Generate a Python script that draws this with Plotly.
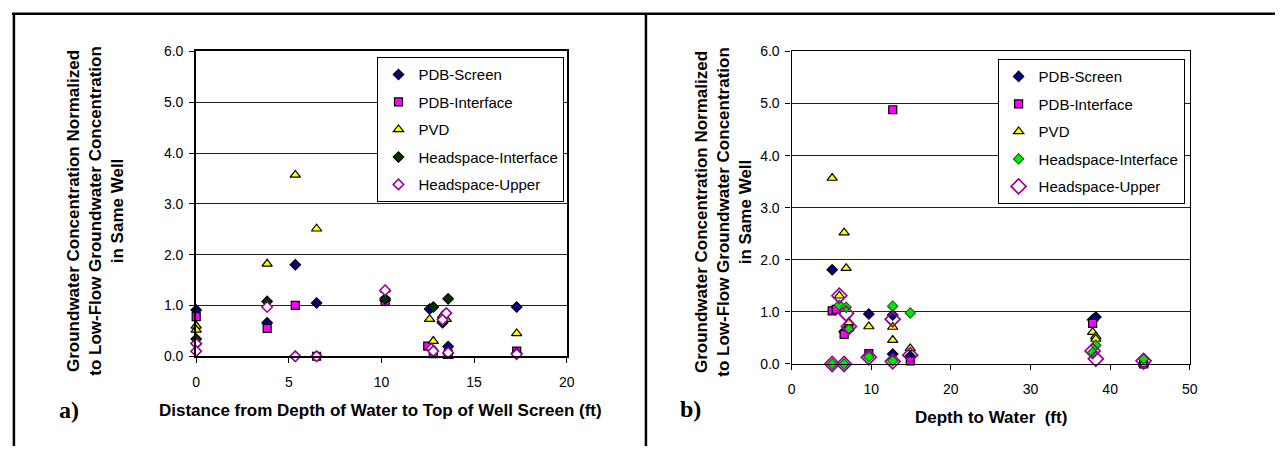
import plotly.graph_objects as go

# ---------------- data: panel a) distance from depth of water to top of screen ----------------
a_screen_x = [0, 3.83, 5.35, 6.5, 10.2, 12.6, 13.3, 13.6, 17.3]
a_screen_y = [0.91, 0.66, 1.80, 1.05, 1.10, 0.93, 0.68, 0.19, 0.97]

a_interface_x = [0, 3.83, 5.35, 6.5, 10.2, 12.5, 12.8, 13.6, 17.3]
a_interface_y = [0.78, 0.55, 1.00, 0.0, 1.08, 0.20, 0.05, 0.05, 0.10]

a_pvd_x = [0, 0, 3.83, 5.35, 6.5, 10.2, 12.6, 12.8, 13.3, 13.5, 13.6, 17.3]
a_pvd_y = [0.60, 0.52, 1.82, 3.57, 2.51, 1.31, 0.73, 0.30, 0.80, 0.73, 0.0, 0.45]

a_hsi_x = [0, 0, 3.83, 5.35, 6.5, 10.2, 12.8, 13.3, 13.6, 13.6, 17.3]
a_hsi_y = [0.34, 0.25, 1.08, 0.0, 0.0, 1.13, 0.97, 0.66, 1.13, 0.06, 0.06]

a_hsu_x = [0, 0, 3.83, 5.35, 6.5, 10.2, 12.7, 12.8, 13.3, 13.5, 13.6, 17.3]
a_hsu_y = [0.25, 0.10, 0.97, 0.0, 0.0, 1.30, 0.15, 0.10, 0.72, 0.85, 0.07, 0.04]

# ---------------- data: panel b) depth to water ----------------
b_screen_x = [5.1, 6.6, 9.7, 12.7, 12.7, 14.9, 37.8, 38.2, 44.2]
b_screen_y = [1.81, 0.62, 0.96, 0.94, 0.19, 0.15, 0.85, 0.90, 0.0]

b_interface_x = [5.1, 5.6, 6.6, 7.2, 9.7, 12.7, 14.9, 37.8, 44.2]
b_interface_y = [1.02, 1.05, 0.57, 0.70, 0.20, 4.88, 0.06, 0.78, 0.0]

b_pvd_x = [5.1, 6.0, 6.6, 6.85, 7.2, 9.7, 12.7, 12.7, 14.9, 37.8, 38.2, 38.2, 44.2]
b_pvd_y = [3.57, 1.31, 2.52, 1.84, 0.80, 0.72, 0.71, 0.46, 0.30, 0.61, 0.53, 0.48, 0.0]

b_hsi_x = [5.1, 6.0, 6.6, 6.85, 7.2, 9.7, 12.7, 12.7, 14.9, 37.8, 38.2, 44.2]
b_hsi_y = [0.0, 1.13, 0.0, 1.09, 0.66, 0.14, 1.11, 0.06, 0.98, 0.22, 0.36, 0.10]

b_hsu_x = [5.1, 6.0, 6.6, 6.85, 7.2, 9.7, 12.7, 12.7, 14.9, 37.8, 38.2, 44.2]
b_hsu_y = [0.0, 1.31, 0.0, 0.97, 0.72, 0.13, 0.86, 0.05, 0.17, 0.25, 0.10, 0.06]

series_names = ["PDB-Screen", "PDB-Interface", "PVD", "Headspace-Interface", "Headspace-Upper"]
y_ticks = [0, 1, 2, 3, 4, 5, 6]

W, H = 1283, 454
FONT = "Liberation Sans, Arial, sans-serif"


def px(x):
    return x / W


def py(y):
    return 1 - y / H


fig = go.Figure()

styles_a = [
    dict(symbol="diamond", size=8, color="#000080", line=dict(color="black", width=1.2)),
    dict(symbol="square", size=8, color="#FF00FF", line=dict(color="black", width=1.2)),
    dict(symbol="triangle-up", size=9, color="#FFFF00", line=dict(color="black", width=1.2)),
    dict(symbol="diamond", size=8, color="#003300", line=dict(color="black", width=1.2)),
    dict(symbol="diamond", size=8, color="white", line=dict(color="#990099", width=1.6)),
]
styles_b = [
    dict(symbol="diamond", size=8, color="#000080", line=dict(color="black", width=1.2)),
    dict(symbol="square", size=8, color="#FF00FF", line=dict(color="black", width=1.2)),
    dict(symbol="triangle-up", size=9, color="#FFFF00", line=dict(color="black", width=1.2)),
    dict(symbol="diamond", size=8, color="#00E600", line=dict(color="#1a5a1a", width=1.1)),
    dict(symbol="diamond-open", size=11.5, color="#990099", line=dict(color="#990099", width=1.7)),
]

data_a = [(a_screen_x, a_screen_y), (a_interface_x, a_interface_y), (a_pvd_x, a_pvd_y),
          (a_hsi_x, a_hsi_y), (a_hsu_x, a_hsu_y)]
data_b = [(b_screen_x, b_screen_y), (b_interface_x, b_interface_y), (b_pvd_x, b_pvd_y),
          (b_hsi_x, b_hsi_y), (b_hsu_x, b_hsu_y)]

for i, (name, (xs, ys), st) in enumerate(zip(series_names, data_a, styles_a)):
    fig.add_trace(go.Scatter(x=xs, y=ys, mode="markers", name=name, marker=st,
                             xaxis="x", yaxis="y", legend="legend",
                             legendgroup="a" + str(i), cliponaxis=False))
for i, (name, (xs, ys), st) in enumerate(zip(series_names, data_b, styles_b)):
    fig.add_trace(go.Scatter(x=xs, y=ys, mode="markers", name=name, marker=st,
                             xaxis="x2", yaxis="y2", legend="legend2",
                             legendgroup="b" + str(i), cliponaxis=False))

tickfont = dict(family=FONT, size=14, color="black")

common_y = dict(range=[0, 6], tickvals=y_ticks, tickformat=".1f", showgrid=True,
                gridcolor="#222", gridwidth=1, zeroline=False, showline=True,
                linecolor="black", mirror=True, ticks="outside", ticklen=5,
                tickcolor="black", tickfont=tickfont, fixedrange=True,
                ticklabelstandoff=3)
common_x = dict(showgrid=False, zeroline=False, showline=True, linecolor="black",
                mirror=True, ticks="outside", ticklen=5, tickcolor="black",
                tickfont=tickfont, fixedrange=True, ticklabelstandoff=7)

legend_common = dict(bgcolor="white", bordercolor="black", borderwidth=1,
                     font=dict(family=FONT, size=15, color="black"),
                     xanchor="left", yanchor="top", tracegroupgap=5,
                     itemwidth=30)

fig.update_layout(
    width=W, height=H,
    margin=dict(l=0, r=0, t=0, b=0),
    paper_bgcolor="white", plot_bgcolor="white",
    showlegend=True,
    xaxis=dict(domain=[px(194), px(568)], range=[0, 20], dtick=5, anchor="y",
               linewidth=1.5, **common_x),
    yaxis=dict(domain=[py(361), py(45)], anchor="x", linewidth=2, **common_y),
    xaxis2=dict(domain=[px(795), px(1197)], range=[0, 50], dtick=10, anchor="y2",
                linewidth=1.2, **common_x),
    yaxis2=dict(domain=[py(369), py(45)], anchor="x2", linewidth=1.2, **common_y),
    legend=dict(x=px(377), y=py(51), **legend_common),
    legend2=dict(x=px(1003), y=py(53), **legend_common),
)

ytitle = ("Groundwater Concentration Normalized<br>to Low-Flow Groundwater Concentration"
          "<br>in Same Well")
title_font = dict(family=FONT, size=17, color="black")

annotations = [
    dict(text="<b>" + ytitle + "</b>", x=px(92), y=py(210), textangle=-90,
         font=title_font),
    dict(text="<b>" + ytitle + "</b>", x=px(726), y=py(211), textangle=-90,
         font=title_font),
    dict(text="<b>Distance from Depth of Water to Top of Well Screen (ft)</b>",
         x=px(380), y=py(417), font=title_font),
    dict(text="<b>Depth to Water&nbsp; (ft)</b>", x=px(996), y=py(424), font=title_font),
    dict(text="<b>a)</b>", x=px(66), y=py(417),
         font=dict(family="Liberation Serif, Times New Roman, serif", size=24, color="black")),
    dict(text="<b>b)</b>", x=px(693), y=py(416),
         font=dict(family="Liberation Serif, Times New Roman, serif", size=24, color="black")),
]
for a in annotations:
    a.update(xref="paper", yref="paper", showarrow=False, xanchor="center", yanchor="middle")
fig.update_layout(annotations=annotations)

# panel frame lines (decoration)
frame = [
    dict(x0=px(8), x1=1, y0=py(6), y1=py(6)),
    dict(x0=px(10), x1=px(10), y0=py(6), y1=0),
    dict(x0=px(648), x1=px(648), y0=py(6), y1=0),
]
fig.update_layout(shapes=[dict(type="line", xref="paper", yref="paper",
                               line=dict(color="black", width=2.5), **f) for f in frame])

fig.write_html("out.html")
